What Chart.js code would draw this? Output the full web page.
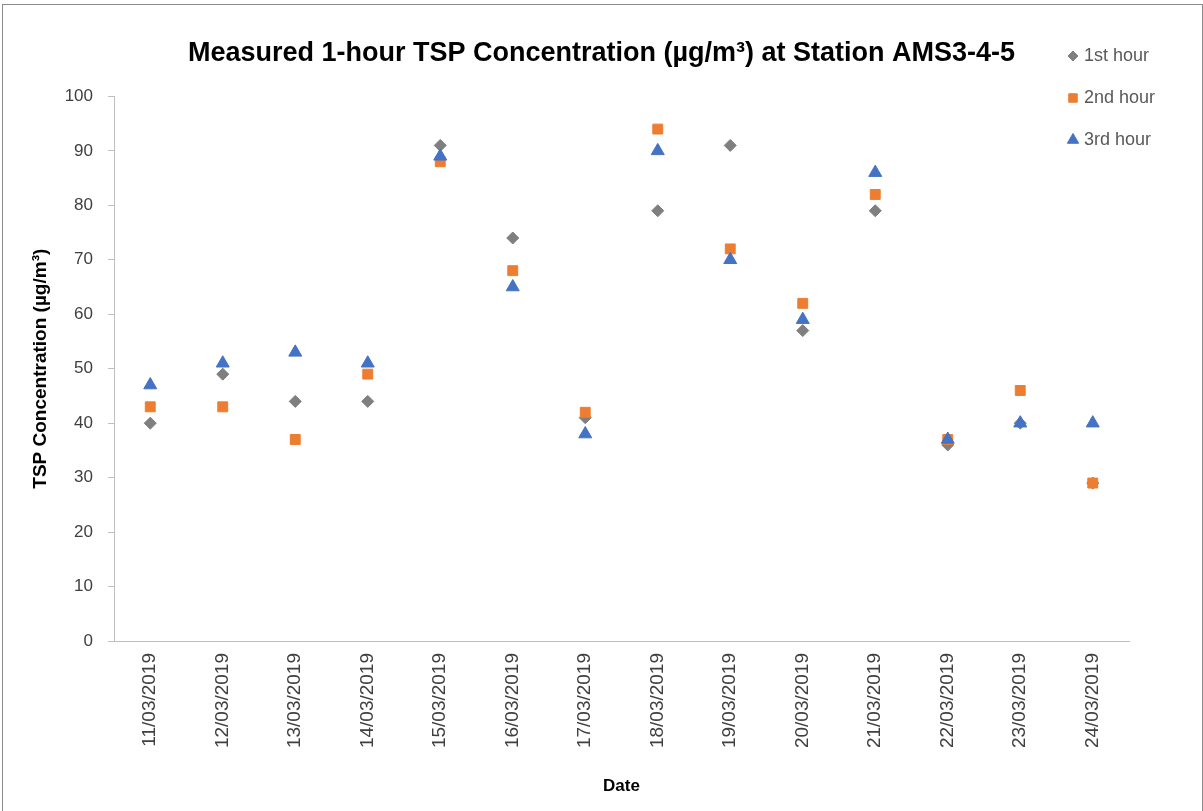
<!DOCTYPE html>
<html>
<head>
<meta charset="utf-8">
<script src="https://cdn.jsdelivr.net/npm/chart.js@4"></script>
<style>
  body { margin: 0; background: #fff; }
  #wrap { width: 1203px; height: 811px; }
</style>
</head>
<body>
<div id="wrap"><canvas id="chart"></canvas></div>
<script>
// chart data
const dates = ['11/03/2019', '12/03/2019', '13/03/2019', '14/03/2019', '15/03/2019', '16/03/2019', '17/03/2019',
               '18/03/2019', '19/03/2019', '20/03/2019', '21/03/2019', '22/03/2019', '23/03/2019', '24/03/2019'];
const hour1 = [40, 49, 44, 44, 91, 74, 41, 79, 91, 57, 79, 36, 40, 29];
const hour2 = [43, 43, 37, 49, 88, 68, 42, 94, 72, 62, 82, 37, 46, 29];
const hour3 = [47, 51, 53, 51, 89, 65, 38, 90, 70, 59, 86, 37, 40, 40];
const yTicks = [0, 10, 20, 30, 40, 50, 60, 70, 80, 90, 100];

const FONT = "'Liberation Sans', Arial, sans-serif";
const axisGrey = '#bfbfbf';

// frame round the whole chart, and title centred on the whole canvas
const framePlugin = {
    id: 'frame',
    afterLayout(chart) {
        if (chart.titleBlock) {
            chart.titleBlock.left = 0;
            chart.titleBlock.right = chart.width;
        }
    },
    beforeDraw(chart) {
        const c = chart.ctx;
        c.save();
        c.fillStyle = '#fff';
        c.fillRect(0, 0, chart.width, chart.height);
        c.strokeStyle = '#8c8c8c';
        c.lineWidth = 1;
        c.strokeRect(2.5, 4.5, chart.width - 3, chart.height - 3);
        c.restore();
    }
};

// legend in the top right corner, like the Excel one
const sideLegend = {
    id: 'sideLegend',
    afterDraw(chart) {
        const c = chart.ctx;
        c.save();
        chart.data.datasets.forEach(function(ds, i) {
            const y = 56 + i * 42;
            c.fillStyle = ds.backgroundColor;
            c.strokeStyle = ds.borderColor;
            Chart.helpers.drawPoint(c, {pointStyle: ds.pointStyle, radius: ds.pointRadius - 1, rotation: 0, borderWidth: 1}, 1073, y);
            c.fillStyle = '#595959';
            c.font = '18px ' + FONT;
            c.textBaseline = 'middle';
            c.fillText(ds.label, 1084, y);
        });
        c.restore();
    }
};

new Chart(document.getElementById('chart'), {
    type: 'line',
    data: {
        labels: dates,
        datasets: [
            { label: '1st hour', data: hour1, showLine: false, pointStyle: 'rectRot', pointRadius: 6,
              backgroundColor: '#7f7f7f', borderColor: '#7f7f7f', order: 3 },
            { label: '2nd hour', data: hour2, showLine: false, pointStyle: 'rect', pointRadius: 7,
              backgroundColor: '#ed7d31', borderColor: '#ed7d31', order: 2 },
            { label: '3rd hour', data: hour3, showLine: false, pointStyle: 'triangle', pointRadius: 7.5,
              backgroundColor: '#4472c4', borderColor: '#4472c4', order: 1 }
        ]
    },
    options: {
        responsive: true,
        maintainAspectRatio: false,
        animation: false,
        layout: { padding: { left: 0, right: 74, top: 0, bottom: 0 } },
        plugins: {
            legend: { display: false },
            tooltip: { enabled: false },
            title: {
                display: true,
                text: 'Measured 1-hour TSP Concentration (µg/m³) at Station AMS3-4-5',
                color: '#000',
                font: { family: FONT, size: 27, weight: 'bold' },
                padding: { top: 37, bottom: 27 }
            }
        },
        scales: {
            x: {
                type: 'category',
                offset: true,
                afterFit(scale) { scale.height = 170; },
                grid: { display: true, drawOnChartArea: false, drawTicks: false },
                border: { display: true, color: axisGrey },
                ticks: {
                    minRotation: 90, maxRotation: 90, padding: 12,
                    color: '#404040', font: { family: FONT, size: 19 }
                },
                title: {
                    display: true, text: 'Date', color: '#000',
                    font: { family: FONT, size: 17, weight: 'bold' },
                    padding: { top: 14, bottom: 14 }
                }
            },
            y: {
                min: 0, max: 100,
                afterFit(scale) { scale.width = 114; },
                afterBuildTicks(scale) { scale.ticks = yTicks.map(v => ({ value: v })); },
                grid: { display: true, drawOnChartArea: false, drawTicks: true, tickLength: 6, color: axisGrey },
                border: { display: true, color: axisGrey },
                ticks: { padding: 15, color: '#404040', font: { family: FONT, size: 17 } },
                title: {
                    display: true, text: 'TSP Concentration (µg/m³)', color: '#000',
                    font: { family: FONT, size: 19, weight: 'bold' },
                    padding: { top: 29, bottom: 0 }
                }
            }
        }
    },
    plugins: [framePlugin, sideLegend]
});
</script>
</body>
</html>
